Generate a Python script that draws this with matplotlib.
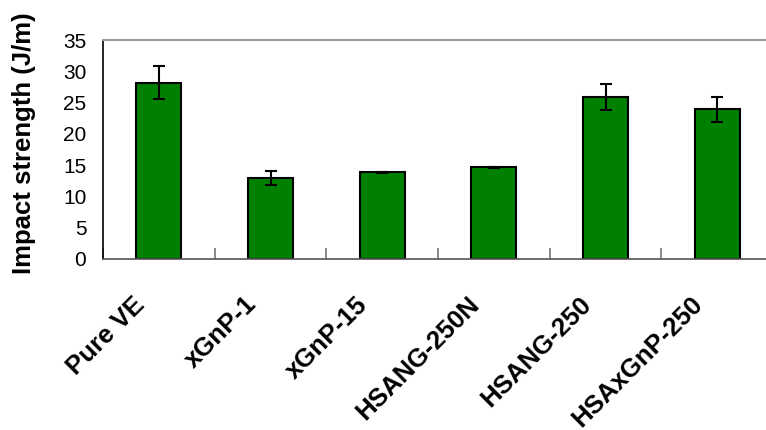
import numpy as np
import matplotlib
matplotlib.use("Agg")
import matplotlib.pyplot as plt
from matplotlib.transforms import ScaledTranslation

# Resistencia al impacto de los compuestos
muestras = ["Pure VE", "xGnP-1", "xGnP-15", "HSANG-250N", "HSANG-250", "HSAxGnP-250"]
impacto = [28.2, 13.0, 13.85, 14.65, 25.9, 23.9]
error = [2.7, 1.1, 0.1, 0.1, 2.05, 2.0]

plt.rcParams["font.family"] = ["Liberation Sans", "DejaVu Sans"]

fig = plt.figure(figsize=(7.66, 4.30), dpi=100)
ax = fig.add_axes([103 / 766, 171 / 430, 670 / 766, 219 / 430])

x = np.arange(len(muestras))
ax.bar(x, impacto, width=0.4, color="#008000", edgecolor="black", linewidth=1.5,
       yerr=error, capsize=4.3, error_kw={"elinewidth": 1.5, "capthick": 1.5, "ecolor": "black"})

ax.set_xlim(-0.5, len(muestras) - 0.5)
ax.set_ylim(0, 35)
ax.set_yticks(np.arange(0, 36, 5))
ax.tick_params(axis="y", length=0, pad=12, labelsize=15)

# etiquetas en el centro, marcas entre categorías
ax.set_xticks(x)
ax.set_xticks(np.arange(-0.5, len(muestras), 1), minor=True)
ax.tick_params(axis="x", which="major", length=0, pad=30)
ax.tick_params(axis="x", which="minor", direction="in", length=8, width=1.2, color="#777777")
ax.set_xticklabels(muestras, rotation=45, ha="right", va="center",
                   rotation_mode="anchor", fontsize=18.5, fontweight="bold")
desplazamiento = ScaledTranslation(-0.18, 0, fig.dpi_scale_trans)
for etiqueta in ax.get_xticklabels():
    etiqueta.set_transform(etiqueta.get_transform() + desplazamiento)

ax.set_ylabel("Impact strength (J/m)", fontsize=18.5, fontweight="bold")
ax.yaxis.set_label_coords(-0.1, 0.527)

ax.spines["right"].set_visible(False)
ax.spines["left"].set_color("black")
ax.spines["left"].set_linewidth(1.2)
ax.spines["bottom"].set_color("#555555")
ax.spines["bottom"].set_linewidth(1.2)
ax.spines["top"].set_color("#999999")
ax.spines["top"].set_linewidth(1.5)

fig.savefig("out.png", dpi=100)
